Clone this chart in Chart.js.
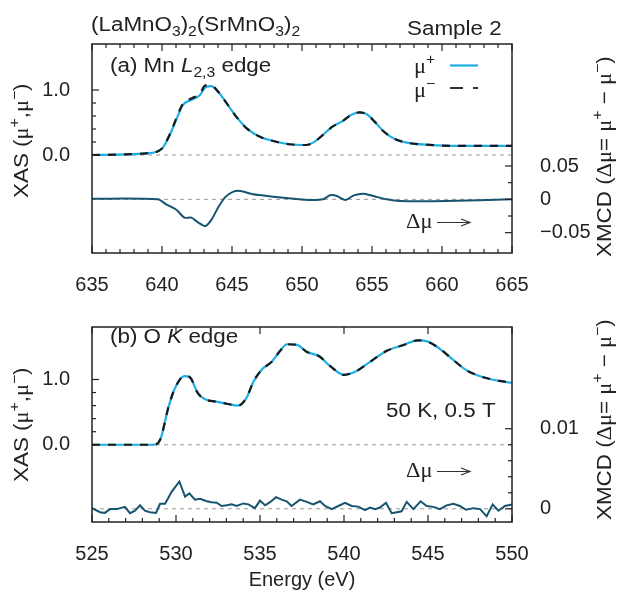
<!DOCTYPE html>
<html>
<head>
<meta charset="utf-8">
<script src="https://cdn.jsdelivr.net/npm/chart.js@4.4.1/dist/chart.umd.min.js"></script>
<style>
  html, body { margin: 0; padding: 0; background: #fff; }
  #wrap { position: relative; width: 619px; height: 592px; }
  canvas { position: absolute; left: 0; }
</style>
</head>
<body>
<div id="wrap">
  <canvas id="mnChart" width="619" height="295" style="top:0"></canvas>
  <canvas id="oChart" width="619" height="297" style="top:295px"></canvas>
</div>
<script>
// (a) Mn L2,3 edge - XAS
var energyA = [635, 638.9, 640.0, 640.6, 641.05, 641.5, 642.1, 642.7, 643.1, 643.5, 644.1, 644.7, 645.3, 646.05, 647.0, 647.95, 649.1, 650.3, 650.9, 651.5, 652.1, 652.95, 653.5, 654.1, 654.6, 655.2, 655.8, 656.5, 657.5, 659.1, 661.5, 665];
var muPlusA = [0.0, 0.026, 0.10, 0.33, 0.56, 0.77, 0.85, 0.92, 1.04, 1.06, 0.95, 0.77, 0.59, 0.41, 0.28, 0.215, 0.165, 0.154, 0.205, 0.31, 0.425, 0.53, 0.615, 0.655, 0.63, 0.51, 0.37, 0.26, 0.19, 0.155, 0.14, 0.14];
var muMinusA = [0.0, 0.026, 0.10, 0.34, 0.58, 0.79, 0.87, 0.94, 1.07, 1.07, 0.95, 0.77, 0.59, 0.41, 0.28, 0.215, 0.165, 0.154, 0.205, 0.31, 0.425, 0.53, 0.615, 0.655, 0.63, 0.51, 0.37, 0.26, 0.19, 0.155, 0.14, 0.14];
// (a) XMCD
var energyDA = [635, 639.7, 640.3, 641.05, 641.6, 642.1, 642.6, 643.1, 643.55, 644.0, 644.5, 645.1, 645.6, 646.5, 647.95, 649.4, 650.6, 651.5, 652.0, 652.5, 653.1, 653.7, 654.4, 655.1, 656.05, 657.0, 660.3, 665];
var xmcdA = [0.001, 0, -0.0075, -0.016, -0.0275, -0.0275, -0.035, -0.040, -0.030, -0.0125, 0.003, 0.0115, 0.0125, 0.0075, 0.004, 0.001, -0.001, 0, 0.006, 0.005, -0.001, 0.006, 0.0085, 0.005, 0, -0.0025, -0.0025, 0];

// (b) O K edge - XAS
var energyB = [525, 528.65, 529.05, 529.55, 529.95, 530.5, 530.8, 531.3, 531.7, 532.4, 533.1, 533.7, 534.2, 534.6, 535.1, 535.7, 536.2, 536.6, 537.2, 537.8, 538.5, 539.2, 540.0, 540.75, 541.55, 542.55, 543.5, 544.4, 545.0, 545.7, 546.5, 547.3, 548.1, 549.1, 550];
var muPlusB = [0, 0, 0.072, 0.577, 0.875, 1.05, 1.04, 0.79, 0.70, 0.66, 0.625, 0.60, 0.72, 0.96, 1.15, 1.27, 1.44, 1.54, 1.53, 1.42, 1.36, 1.20, 1.07, 1.13, 1.27, 1.44, 1.525, 1.60, 1.58, 1.47, 1.30, 1.14, 1.05, 0.985, 0.95];
var muMinusB = [0, 0, 0.072, 0.577, 0.875, 1.05, 1.04, 0.79, 0.70, 0.66, 0.625, 0.60, 0.72, 0.96, 1.15, 1.27, 1.44, 1.54, 1.53, 1.42, 1.36, 1.20, 1.07, 1.13, 1.27, 1.44, 1.525, 1.60, 1.58, 1.47, 1.30, 1.14, 1.05, 0.985, 0.95];
// (b) XMCD
var energyDB = [525.0, 525.48, 525.77, 526.07, 526.47, 526.96, 527.26, 527.56, 527.86, 528.15, 528.45, 528.81, 529.05, 529.35, 529.74, 530.2, 530.54, 530.79, 531.13, 531.43, 531.83, 532.12, 532.42, 532.72, 533.02, 533.31, 533.61, 534.01, 534.31, 534.7, 535.0, 535.3, 535.6, 535.95, 536.29, 536.59, 536.88, 537.38, 537.78, 538.17, 538.57, 538.87, 539.27, 539.66, 540.06, 540.46, 540.85, 541.25, 541.55, 541.85, 542.14, 542.5, 542.84, 543.14, 543.43, 543.73, 544.13, 544.56, 544.92, 545.32, 545.71, 546.11, 546.51, 546.9, 547.26, 547.7, 548.1, 548.49, 548.85, 549.19, 549.58, 550.0];
var xmcdB = [0.00008, -0.00043, -0.00051, -0.00004, -0.00004, 0.00024, -0.00055, -0.00024, 0.00043, -0.00024, -0.00043, -0.00051, 0.00063, 0.00063, 0.00212, 0.00341, 0.00153, 0.00192, 0.00114, 0.00126, 0.00094, 0.00082, 0.00075, 0.00035, 0.00043, 0.00055, 0.00035, 0.00067, 0.00055, 0.00008, 0.00102, 0.00043, 0.00082, 0.00145, 0.00114, 0.00094, 0.00035, 0.00114, 0.00086, 0.00055, 0.00094, 0.00035, -0.00004, 0.00035, 0.00075, 0.00035, 0.00027, -0.00016, 0.00016, -0.00004, 0.00016, 0.00075, -0.00055, -0.00043, -0.00031, 0.00086, -0.00004, 0.00094, 0.00035, 0.00024, -0.00004, 0.00043, 0.00063, 0.00035, -0.00012, 0.00008, -0.00004, -0.00094, 0.00055, -0.00024, 0.00035, 0.00055];

// tick labels
var xTicksA = [635, 640, 645, 650, 655, 660, 665];
var xTicksB = [525, 530, 535, 540, 545, 550];
var yTicksXas = [0, 1];
var y2TicksA = [-0.05, 0, 0.05];
var y2TicksB = [0, 0.01];

var FONT = 'Liberation Sans, Arial, sans-serif';
var SERIF = 'Liberation Serif, serif';
var SX = 1.12;
var INK = '#222';
var BLUE = '#1eaee6';

function pts(xs, ys) {
    return xs.map(function (x, i) { return { x: x, y: ys[i] }; });
}

// draws text made of pieces, with sub/superscripts
function richText(ctx, x, y, parts, angle) {
    ctx.save();
    ctx.translate(x, y);
    if (angle) ctx.rotate(angle);
    ctx.scale(SX, 1);
    ctx.fillStyle = INK;
    ctx.textBaseline = 'alphabetic';
    ctx.textAlign = 'left';
    var cx = 0;
    parts.forEach(function (p) {
        var size = (p.sub || p.sup) ? 14 : 20;
        ctx.font = (p.italic ? 'italic ' : '') + size + 'px ' + (p.serif ? SERIF : FONT);
        var dy = p.sub ? 5 : (p.sup ? -9 : 0);
        ctx.fillText(p.t, cx, dy);
        cx += ctx.measureText(p.t).width;
    });
    ctx.restore();
}

function arrow(ctx, x1, x2, y) {
    ctx.save();
    ctx.strokeStyle = '#333';
    ctx.lineWidth = 1.2;
    ctx.beginPath();
    ctx.moveTo(x1, y); ctx.lineTo(x2, y);
    ctx.moveTo(x2 - 9, y - 3.5); ctx.lineTo(x2, y); ctx.lineTo(x2 - 9, y + 3.5);
    ctx.stroke();
    ctx.restore();
}

var xasTitle = [{ t: 'XAS (' }, { t: 'μ', serif: true }, { t: '+', sup: true }, { t: ',' }, { t: 'μ', serif: true }, { t: '−', sup: true }, { t: ')' }];
var xmcdTitle = [{ t: 'XMCD (' }, { t: 'Δμ', serif: true }, { t: '= ' }, { t: 'μ', serif: true }, { t: '+', sup: true }, { t: ' − ' }, { t: 'μ', serif: true }, { t: '−', sup: true }, { t: ')' }];

// frame, inward ticks, zero lines and labels
function makeDecor(cfg) {
    return {
        id: 'decor',
        beforeDatasetsDraw: function (chart) {
            var ctx = chart.ctx, a = chart.chartArea, s = chart.scales;
            ctx.save();
            ctx.strokeStyle = '#999';
            ctx.lineWidth = 1;
            ctx.setLineDash([4, 4]);
            [s.y.getPixelForValue(0), s.y2.getPixelForValue(0)].forEach(function (py) {
                ctx.beginPath(); ctx.moveTo(a.left, py); ctx.lineTo(a.right, py); ctx.stroke();
            });
            ctx.restore();
        },
        afterDraw: function (chart) {
            var ctx = chart.ctx, a = chart.chartArea, s = chart.scales;
            ctx.save();
            ctx.strokeStyle = INK;
            ctx.lineWidth = 1.2;
            function seg(x1, y1, x2, y2) {
                ctx.beginPath(); ctx.moveTo(x1, y1); ctx.lineTo(x2, y2); ctx.stroke();
            }
            for (var e = s.x.min; e <= s.x.max + 1e-6; e += 1) {
                var px = s.x.getPixelForValue(e);
                var major = Math.abs(Math.round(e) % 5) === 0;
                var len = major ? 7 : 4;
                seg(px, a.bottom, px, a.bottom - len);
                if (major || cfg.topMinor) seg(px, a.top, px, a.top + len);
            }
            for (var v = 0; v <= 1.0001; v += 0.2) {
                var py = s.y.getPixelForValue(v);
                var big = v < 0.01 || v > 0.99;
                seg(a.left, py, a.left + (big ? 7 : 4), py);
            }
            cfg.y2Minor.forEach(function (v) {
                var py = s.y2.getPixelForValue(v);
                var big = cfg.y2Ticks.some(function (t) { return Math.abs(t - v) < 1e-9; });
                seg(a.right, py, a.right - (big ? 7 : 4), py);
            });
            ctx.lineWidth = 1.5;
            ctx.strokeRect(a.left, a.top, a.right - a.left, a.bottom - a.top);
            ctx.restore();
            cfg.labels(ctx);
        }
    };
}

function makeScales(xmin, xmax, xTicks, ymin, ymax, y2min, y2max, y2Ticks, xHeight, withTitle) {
    var tickFont = { family: FONT, size: 20 };
    return {
        x: {
            type: 'linear', min: xmin, max: xmax,
            afterBuildTicks: function (sc) { sc.ticks = xTicks.map(function (v) { return { value: v }; }); },
            afterFit: function (sc) { sc.height = xHeight; },
            ticks: { font: tickFont, color: INK, padding: 12, autoSkip: false, maxRotation: 0,
                callback: function (v) { return String(v); } },
            grid: { display: false },
            border: { display: false },
            title: { display: withTitle, text: 'Energy (eV)', font: tickFont, color: INK, padding: { top: 0, bottom: 0 } }
        },
        y: {
            position: 'left', min: ymin, max: ymax,
            afterBuildTicks: function (sc) { sc.ticks = yTicksXas.map(function (v) { return { value: v }; }); },
            afterFit: function (sc) { sc.width = 92; },
            ticks: { font: tickFont, color: INK, padding: 14, autoSkip: false,
                callback: function (v) { return v.toFixed(1); } },
            grid: { display: false },
            border: { display: false }
        },
        y2: {
            position: 'right', min: y2min, max: y2max,
            afterBuildTicks: function (sc) { sc.ticks = y2Ticks.map(function (v) { return { value: v }; }); },
            afterFit: function (sc) { sc.width = 107; },
            ticks: { font: tickFont, color: INK, padding: 20, autoSkip: false,
                callback: function (v) { return v === 0 ? '0' : (v < 0 ? '−' : '') + String(Math.abs(v)); } },
            grid: { display: false },
            border: { display: false }
        }
    };
}

// first dataset ends up on top
function datasets(eX, plus, minus, eD, xmcd, xmcdTension) {
    return [
        { data: pts(eX, minus), yAxisID: 'y', borderColor: '#1a1a1a', borderWidth: 2.2,
          borderDash: [8, 8], pointRadius: 0, cubicInterpolationMode: 'monotone', fill: false },
        { data: pts(eX, plus), yAxisID: 'y', borderColor: BLUE, borderWidth: 2.2,
          pointRadius: 0, cubicInterpolationMode: 'monotone', fill: false },
        { data: pts(eD, xmcd), yAxisID: 'y2', borderColor: '#17546f', borderWidth: 2,
          pointRadius: 0, tension: xmcdTension, fill: false }
    ];
}

var commonOpts = {
    responsive: false,
    animation: false,
    events: [],
    plugins: { legend: { display: false }, tooltip: { enabled: false } }
};

// Panel (a)
new Chart(document.getElementById('mnChart').getContext('2d'), {
    type: 'line',
    data: { datasets: datasets(energyA, muPlusA, muMinusA, energyDA, xmcdA, 0.25) },
    options: Object.assign({}, commonOpts, {
        layout: { padding: { top: 44, left: 0, right: 0, bottom: 0 } },
        scales: makeScales(635, 665, xTicksA, -1.508, 1.708, -0.0805, 0.233, y2TicksA, 42, false)
    }),
    plugins: [makeDecor({
        topMinor: true,
        y2Ticks: y2TicksA,
        y2Minor: [-0.05, -0.025, 0, 0.025, 0.05],
        labels: function (ctx) {
            richText(ctx, 91, 31, [{ t: '(LaMnO' }, { t: '3', sub: true }, { t: ')' }, { t: '2', sub: true },
                { t: '(SrMnO' }, { t: '3', sub: true }, { t: ')' }, { t: '2', sub: true }]);
            richText(ctx, 407, 35, [{ t: 'Sample 2' }]);
            richText(ctx, 110, 72, [{ t: '(a) Mn ' }, { t: 'L', italic: true }, { t: '2,3', sub: true }, { t: ' edge' }]);
            // legend
            richText(ctx, 414, 73, [{ t: 'μ', serif: true }, { t: '+', sup: true }]);
            richText(ctx, 414, 97, [{ t: 'μ', serif: true }, { t: '−', sup: true }]);
            ctx.save();
            ctx.lineWidth = 2.2;
            ctx.strokeStyle = BLUE;
            ctx.beginPath(); ctx.moveTo(450, 65.5); ctx.lineTo(478, 65.5); ctx.stroke();
            ctx.strokeStyle = '#333';
            ctx.setLineDash([13, 10]);
            ctx.beginPath(); ctx.moveTo(450, 88); ctx.lineTo(478, 88); ctx.stroke();
            ctx.restore();
            richText(ctx, 406, 228, [{ t: 'Δμ', serif: true }]);
            arrow(ctx, 437, 470, 222.5);
            richText(ctx, 28, 198, xasTitle, -Math.PI / 2);
            richText(ctx, 611, 257, xmcdTitle, -Math.PI / 2);
        }
    })]
});

// Panel (b)
new Chart(document.getElementById('oChart').getContext('2d'), {
    type: 'line',
    data: { datasets: datasets(energyB, muPlusB, muMinusB, energyDB, xmcdB, 0) },
    options: Object.assign({}, commonOpts, {
        layout: { padding: { top: 20, left: 0, right: 0, bottom: 0 } },
        scales: makeScales(525, 550, xTicksB, -1.183, 1.804, -0.00165, 0.0227, y2TicksB, 70, true)
    }),
    plugins: [makeDecor({
        topMinor: false,
        y2Ticks: y2TicksB,
        y2Minor: [0, 0.002, 0.004, 0.006, 0.008, 0.01],
        labels: function (ctx) {
            richText(ctx, 110, 48, [{ t: '(b) O ' }, { t: 'K', italic: true }, { t: ' edge' }]);
            richText(ctx, 386, 122, [{ t: '50 K, 0.5 T' }]);
            richText(ctx, 406, 182, [{ t: 'Δμ', serif: true }]);
            arrow(ctx, 437, 470, 176.5);
            richText(ctx, 28, 187, xasTitle, -Math.PI / 2);
            richText(ctx, 611, 225, xmcdTitle, -Math.PI / 2);
        }
    })]
});
</script>
</body>
</html>
